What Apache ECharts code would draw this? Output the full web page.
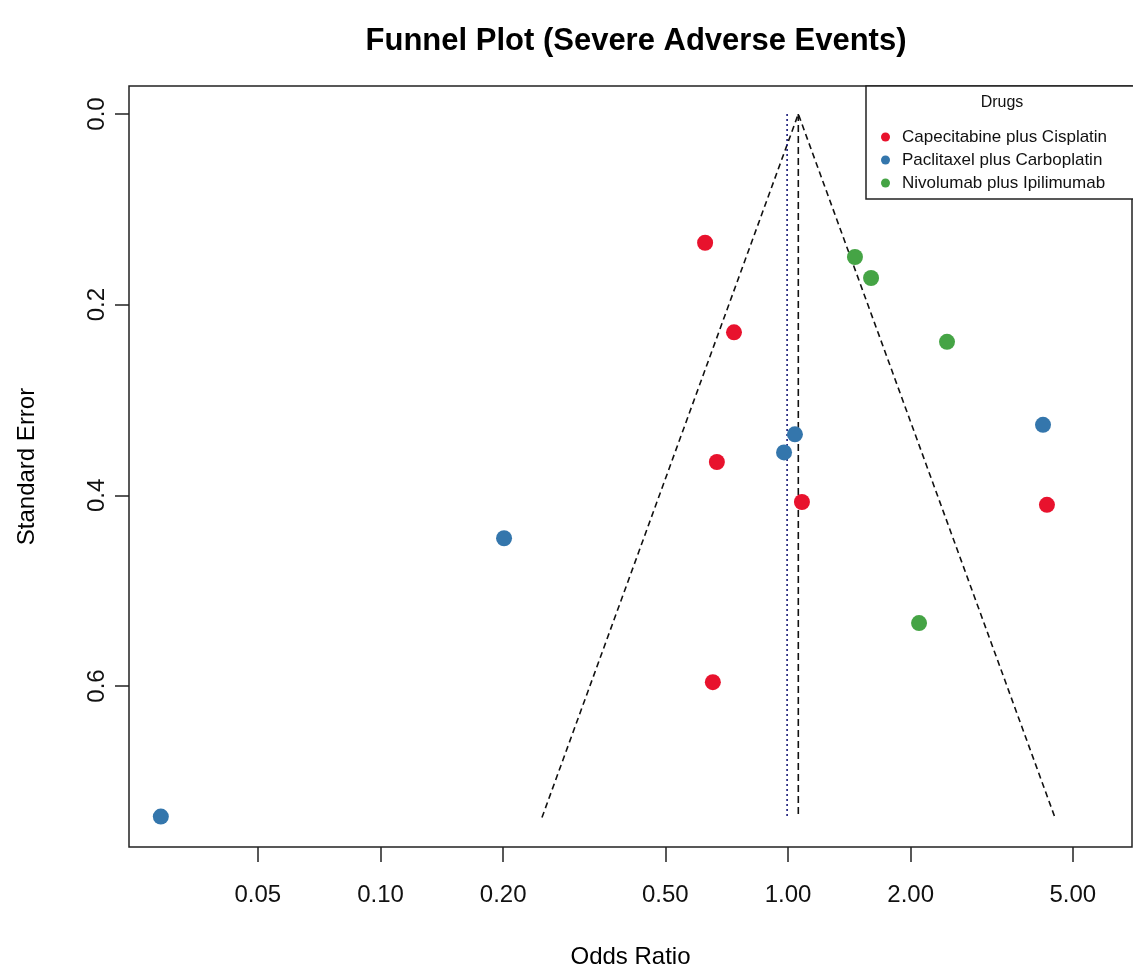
<!DOCTYPE html>
<html>
<head>
<meta charset="utf-8">
<script src="https://cdn.jsdelivr.net/npm/echarts@6/dist/echarts.min.js"></script>
<style>
html,body{margin:0;padding:0;background:#fff;}
#chart{width:1133px;height:970px;}
</style>
</head>
<body>
<div id="chart"></div>
<script>
// ---- data ----
const seriesNames = ['Capecitabine plus Cisplatin', 'Paclitaxel plus Carboplatin', 'Nivolumab plus Ipilimumab'];
const seriesColors = ['#E8122D', '#3476AC', '#45A445'];

const capeOR = [0.626, 0.737, 0.669, 1.082, 0.654, 4.32];
const capeSE = [0.135, 0.229, 0.365, 0.407, 0.596, 0.410];

const pacliOR = [1.040, 0.978, 0.201, 0.0289, 4.225];
const pacliSE = [0.336, 0.355, 0.445, 0.737, 0.326];

const nivoOR = [1.460, 1.599, 2.456, 2.097];
const nivoSE = [0.150, 0.172, 0.239, 0.534];

// funnel outline (left base, apex, right base) and reference lines
const funnelOR = [0.249, 1.06, 4.52];
const funnelSE = [0.738, 0.0, 0.738];
const fixedLineOR = [1.06, 1.06];
const fixedLineSE = [0.0, 0.738];
const randomLineOR = [0.995, 0.995];
const randomLineSE = [0.0, 0.738];

const xTicks = [0.05, 0.10, 0.20, 0.50, 1.00, 2.00, 5.00];
const yTicks = [0.0, 0.2, 0.4, 0.6];

// ---- chart ----
const lg = v => Math.log10(v);
const pairs = (xs, ys) => xs.map((x, i) => [lg(x), ys[i]]);
const FONT = '"Liberation Sans", Arial, sans-serif';

const chart = echarts.init(document.getElementById('chart'), null, {renderer: 'canvas'});

const pointSeries = [[capeOR, capeSE], [pacliOR, pacliSE], [nivoOR, nivoSE]].map((d, i) => ({
  name: seriesNames[i],
  type: 'scatter',
  data: pairs(d[0], d[1]),
  symbol: 'circle',
  symbolSize: 16,
  itemStyle: {color: seriesColors[i], opacity: 1},
  z: 5
}));

const option = {
  animation: false,
  backgroundColor: '#ffffff',
  textStyle: {fontFamily: FONT},
  grid: {
    left: 129, right: 1, top: 86, bottom: 123,
    outerBoundsMode: 'none',
    containLabel: false,
    show: true, borderColor: '#222', borderWidth: 1.5, backgroundColor: 'transparent'
  },
  xAxis: {
    type: 'value',
    min: -1.6172,
    max: 0.8442,
    name: 'Odds Ratio',
    nameLocation: 'middle',
    nameGap: 98,
    nameTextStyle: {fontSize: 24, color: '#000', fontFamily: FONT},
    axisLine: {show: false, onZero: false},
    splitLine: {show: false},
    axisTick: {show: true, length: 15, inside: false, customValues: xTicks.map(lg), lineStyle: {color: '#222', width: 1.5}},
    axisLabel: {
      show: true, margin: 36, fontSize: 24, color: '#111', fontFamily: FONT,
      customValues: xTicks.map(lg),
      formatter: v => Math.pow(10, v).toFixed(2)
    }
  },
  yAxis: {
    type: 'value',
    inverse: true,
    min: -0.0294,
    max: 0.7689,
    name: 'Standard Error',
    nameLocation: 'middle',
    nameGap: 90,
    nameRotate: 90,
    nameTextStyle: {fontSize: 24, color: '#000', fontFamily: FONT},
    axisLine: {show: false, onZero: false},
    splitLine: {show: false},
    axisTick: {show: true, length: 14, customValues: yTicks, lineStyle: {color: '#222', width: 1.5}},
    axisLabel: {
      show: true, margin: 20, fontSize: 24, color: '#111', rotate: 90, fontFamily: FONT,
      customValues: yTicks,
      formatter: v => v.toFixed(1)
    }
  },
  legend: {
    show: true,
    orient: 'vertical',
    left: 876,
    top: 122,
    itemWidth: 9,
    itemHeight: 9,
    itemGap: 3,
    icon: 'circle',
    data: seriesNames,
    textStyle: {fontSize: 17, color: '#111', lineHeight: 20, padding: [0, 0, 0, 7], fontFamily: FONT},
    z: 20
  },
  graphic: [
    {
      type: 'text', x: 636, y: 41, z: 10,
      style: {
        text: 'Funnel Plot (Severe Adverse Events)',
        fontSize: 31, fontWeight: 'bold', fill: '#000', fontFamily: FONT,
        align: 'center', verticalAlign: 'middle'
      }
    },
    {
      type: 'rect', z: 15,
      shape: {x: 866, y: 86, width: 280, height: 113},
      style: {fill: '#fff', stroke: '#222', lineWidth: 1.5}
    },
    {
      type: 'text', x: 1002, y: 103, z: 16,
      style: {
        text: 'Drugs', fontSize: 16, fill: '#111', fontFamily: FONT,
        align: 'center', verticalAlign: 'middle'
      }
    }
  ],
  series: [
    {
      name: 'funnel', type: 'line', data: pairs(funnelOR, funnelSE),
      symbol: 'none', silent: true, z: 3,
      lineStyle: {color: '#111', width: 1.6, type: [6, 4]}
    },
    {
      name: 'fixed', type: 'line', data: pairs(fixedLineOR, fixedLineSE),
      symbol: 'none', silent: true, z: 3,
      lineStyle: {color: '#111', width: 1.6, type: [7, 4]}
    },
    {
      name: 'random', type: 'line', data: pairs(randomLineOR, randomLineSE),
      symbol: 'none', silent: true, z: 3,
      lineStyle: {color: '#1a1a7a', width: 1.6, type: [2, 3]}
    }
  ].concat(pointSeries)
};

chart.setOption(option);
</script>
</body>
</html>
